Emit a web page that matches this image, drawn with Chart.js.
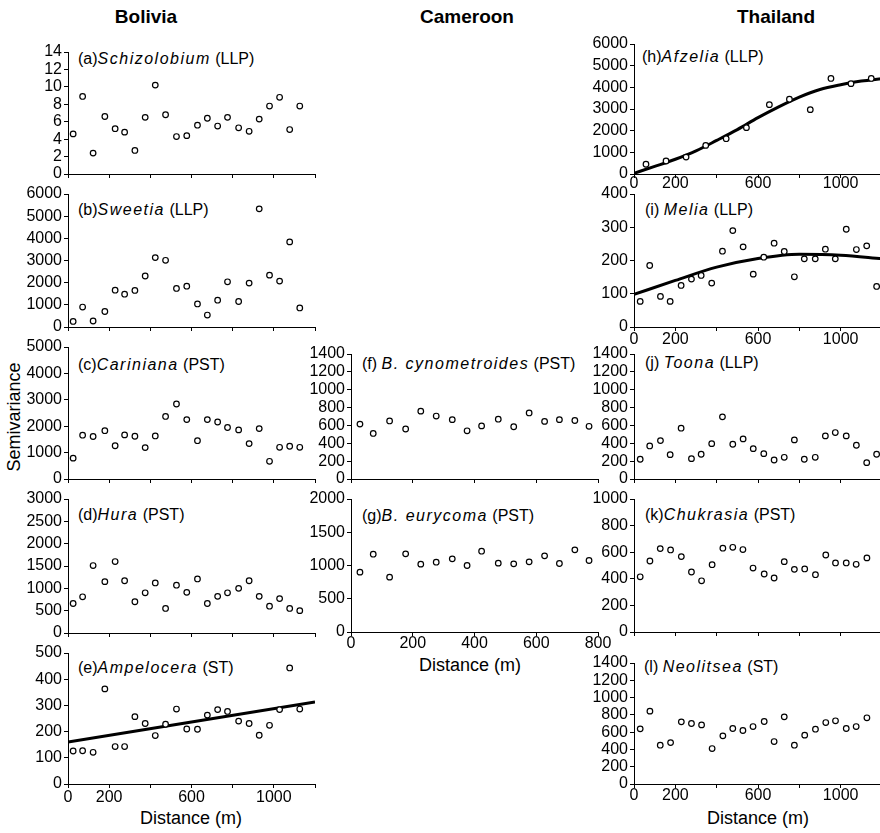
<!DOCTYPE html>
<html>
<head>
<meta charset="utf-8">
<script src="https://cdn.jsdelivr.net/npm/chart.js@4.4.1/dist/chart.umd.min.js"></script>
<style>
  html, body { margin: 0; padding: 0; background: #fff; overflow: hidden; }
  body { width: 880px; height: 833px; position: relative; font-family: "Liberation Sans", Arial, sans-serif; color: #000; }
  .head { position: absolute; font-weight: bold; font-size: 19px; transform: translate(-50%, -50%); white-space: nowrap; }
  .lab { position: absolute; font-size: 16px; line-height: 18px; white-space: nowrap; }
  .lab i { letter-spacing: 1.5px; }
  .axt { position: absolute; font-size: 18px; transform: translate(-50%, -50%); white-space: nowrap; }
</style>
</head>
<body>
<div class="head" style="left:146px;top:17px">Bolivia</div>
<div class="head" style="left:467px;top:17px">Cameroon</div>
<div class="head" style="left:776px;top:17px">Thailand</div>
<div class="axt" style="left:14px;top:417px;transform:translate(-50%,-50%) rotate(-90deg)">Semivariance</div>
<div class="axt" style="left:191px;top:818px">Distance (m)</div>
<div class="axt" style="left:470px;top:665px">Distance (m)</div>
<div class="axt" style="left:758px;top:818px">Distance (m)</div>

<div class="lab" style="left:78px;top:50px">(a)<i>Schizolobium</i> (LLP)</div>
<div class="lab" style="left:78px;top:201px">(b)<i>Sweetia</i> (LLP)</div>
<div class="lab" style="left:78px;top:356px">(c)<i>Cariniana</i> (PST)</div>
<div class="lab" style="left:78px;top:506px">(d)<i>Hura</i> (PST)</div>
<div class="lab" style="left:78px;top:659px">(e)<i>Ampelocera</i> (ST)</div>
<div class="lab" style="left:362px;top:355px">(f) <i>B. cynometroides</i> (PST)</div>
<div class="lab" style="left:362px;top:507px">(g)<i>B. eurycoma</i> (PST)</div>
<div class="lab" style="left:642px;top:48px">(h)<i>Afzelia</i> (LLP)</div>
<div class="lab" style="left:645px;top:201px">(i) <i>Melia</i> (LLP)</div>
<div class="lab" style="left:645px;top:354px">(j) <i>Toona</i> (LLP)</div>
<div class="lab" style="left:645px;top:506px">(k)<i>Chukrasia</i> (PST)</div>
<div class="lab" style="left:644px;top:658px">(l) <i>Neolitsea</i> (ST)</div>

<script>
// lag distances (m)
const lagsBolivia = [25, 71, 122, 179, 229, 275, 325, 375, 424, 474, 527, 577, 629, 677, 727, 775, 829, 880, 929, 979, 1028, 1077, 1126];
const lagsCameroon = [29, 72, 125, 177, 226, 276, 328, 376, 423, 477, 527, 577, 627, 675, 725, 771];
const lagsAfzelia = [58, 155, 252, 347, 446, 544, 655, 752, 853, 953, 1050, 1148];
const lagsThai24 = [30, 76, 128, 175, 228, 278, 325, 376, 428, 478, 528, 577, 628, 678, 727, 776, 824, 877, 926, 974, 1027, 1076, 1126, 1174];
const lagsThai23 = [30, 77, 127, 177, 229, 278, 327, 378, 430, 478, 527, 576, 630, 678, 727, 776, 826, 878, 928, 975, 1027, 1075, 1127];

// semivariances
const schizolobium = [4.6, 8.9, 2.4, 6.6, 5.2, 4.8, 2.7, 6.5, 10.2, 6.8, 4.3, 4.4, 5.6, 6.4, 5.5, 6.5, 5.3, 4.9, 6.3, 7.8, 8.8, 5.1, 7.8];
const sweetia = [250, 900, 270, 700, 1660, 1480, 1650, 2300, 3130, 3010, 1740, 1840, 1040, 540, 1210, 2040, 1150, 1980, 5330, 2340, 2070, 3840, 860];
const cariniana = [790, 1660, 1610, 1830, 1260, 1670, 1620, 1190, 1630, 2370, 2840, 2250, 1450, 2250, 2160, 1950, 1860, 1340, 1910, 670, 1200, 1240, 1200];
const hura = [660, 810, 1510, 1150, 1600, 1170, 700, 900, 1120, 550, 1070, 910, 1210, 660, 820, 900, 1000, 1170, 820, 600, 770, 550, 500];
const ampelocera = [126, 127, 121, 363, 143, 143, 257, 231, 185, 228, 286, 210, 209, 263, 284, 277, 240, 231, 186, 224, 284, 443, 286];
const cynometroides = [615, 510, 650, 560, 760, 705, 665, 540, 595, 670, 585, 740, 645, 665, 655, 590];
const eurycoma = [900, 1170, 825, 1175, 1020, 1050, 1100, 1000, 1215, 1035, 1025, 1055, 1145, 1030, 1235, 1075];
const afzelia = [450, 600, 780, 1320, 1630, 2140, 3200, 3450, 2970, 4410, 4170, 4410];
const melia = [77, 185, 92, 77, 125, 144, 155, 132, 228, 290, 241, 159, 210, 252, 227, 151, 205, 205, 234, 205, 294, 233, 244, 122];
const toona = [221, 370, 430, 273, 569, 228, 277, 396, 696, 389, 449, 340, 284, 213, 243, 438, 221, 243, 483, 520, 483, 378, 183, 277];
const chukrasia = [415, 534, 627, 617, 567, 451, 385, 506, 630, 637, 620, 481, 436, 406, 529, 471, 474, 431, 579, 519, 519, 509, 557];
const neolitsea = [638, 843, 449, 479, 719, 700, 684, 410, 557, 642, 619, 665, 723, 491, 777, 449, 565, 634, 711, 731, 642, 665, 766];

// fitted models
const fitAmpeloceraX = [0, 1200];
const fitAmpeloceraY = [160, 313];
const fitAfzeliaX = [0, 100, 200, 300, 400, 500, 600, 700, 800, 900, 1000, 1100, 1200];
const fitAfzeliaY = [30, 350, 680, 1070, 1550, 2050, 2600, 3100, 3550, 3900, 4120, 4290, 4400];
const fitMeliaX = [0, 200, 400, 600, 800, 1000, 1200];
const fitMeliaY = [98, 140, 180, 206, 219, 216, 205];

// x tick labels
const xLabelsWide = [0, 200, 600, 1000];
const xLabelsCameroon = [0, 200, 400, 600, 800];

const FONT = '"Liberation Sans", Arial, sans-serif';

const panels = [
  { box: [68, 52, 315, 174], xMax: 1200, yMax: 14, yStep: 2, x: lagsBolivia, y: schizolobium },
  { box: [68, 194, 315, 327], xMax: 1200, yMax: 6000, yStep: 1000, x: lagsBolivia, y: sweetia },
  { box: [68, 347, 315, 479], xMax: 1200, yMax: 5000, yStep: 1000, x: lagsBolivia, y: cariniana },
  { box: [68, 499, 315, 633], xMax: 1200, yMax: 3000, yStep: 500, x: lagsBolivia, y: hura },
  { box: [68, 653, 315, 784], xMax: 1200, yMax: 500, yStep: 100, x: lagsBolivia, y: ampelocera,
    xLabels: xLabelsWide, xPad: 0, fit: [fitAmpeloceraX, fitAmpeloceraY] },
  { box: [351, 354, 598, 479], xMax: 800, yMax: 1400, yStep: 200, x: lagsCameroon, y: cynometroides },
  { box: [351, 499, 598, 632], xMax: 800, yMax: 2000, yStep: 500, x: lagsCameroon, y: eurycoma,
    xLabels: xLabelsCameroon, xPad: -2 },
  { box: [634, 44, 882, 174], xMax: 1200, yMax: 6000, yStep: 1000, x: lagsAfzelia, y: afzelia,
    xLabels: xLabelsWide, xPad: -4, fit: [fitAfzeliaX, fitAfzeliaY] },
  { box: [634, 194, 882, 327], xMax: 1200, yMax: 400, yStep: 100, x: lagsThai24, y: melia,
    xLabels: xLabelsWide, xPad: -1.5, fit: [fitMeliaX, fitMeliaY] },
  { box: [634, 354, 882, 479], xMax: 1200, yMax: 1400, yStep: 200, x: lagsThai24, y: toona },
  { box: [634, 499, 882, 632], xMax: 1200, yMax: 1000, yStep: 200, x: lagsThai23, y: chukrasia },
  { box: [634, 663, 882, 784], xMax: 1200, yMax: 1400, yStep: 200, x: lagsThai23, y: neolitsea,
    xLabels: xLabelsWide, xPad: -2 },
];

panels.forEach(function (p) {
  const [L, T, R, B] = p.box;
  const YW = 60, PT = 12, PR = 18;
  const XH = p.xLabels ? 30 : 12;
  const w = YW + (R - L) + PR;
  const h = PT + (B - T) + XH;

  const canvas = document.createElement('canvas');
  canvas.width = w;
  canvas.height = h;
  canvas.style.cssText = 'position:absolute;left:' + (L - YW) + 'px;top:' + (T - PT) + 'px;width:' + w + 'px;height:' + h + 'px';
  document.body.appendChild(canvas);

  const datasets = [{
    data: p.x.map((x, i) => ({ x: x, y: p.y[i] })),
    pointStyle: 'circle',
    pointRadius: 2.8,
    pointBorderWidth: 1.2,
    pointBorderColor: '#000',
    pointBackgroundColor: '#fff',
    showLine: false,
    order: 1
  }];
  if (p.fit) {
    datasets.push({
      type: 'line',
      data: p.fit[0].map((x, i) => ({ x: x, y: p.fit[1][i] })),
      showLine: true,
      pointRadius: 0,
      borderColor: '#000',
      borderWidth: 3,
      cubicInterpolationMode: 'monotone',
      fill: false,
      order: 2
    });
  }

  const gridOpts = { display: true, drawOnChartArea: false, drawTicks: true, tickLength: 4, color: '#000', lineWidth: 1 };
  const borderOpts = { display: true, color: '#000', width: 1 };

  new Chart(canvas, {
    type: 'scatter',
    data: { datasets: datasets },
    options: {
      responsive: false,
      animation: false,
      devicePixelRatio: 1,
      layout: { padding: { top: PT, right: PR, left: 0, bottom: 0 } },
      plugins: { legend: { display: false }, tooltip: { enabled: false } },
      scales: {
        x: {
          type: 'linear',
          min: 0,
          max: p.xMax,
          afterFit: function (s) { s.height = XH; },
          grid: gridOpts,
          border: borderOpts,
          ticks: {
            display: !!p.xLabels,
            stepSize: 200,
            autoSkip: false,
            maxRotation: 0,
            padding: p.xPad || 0,
            color: '#000',
            font: { family: FONT, size: 16 },
            callback: function (v) { return p.xLabels && p.xLabels.includes(v) ? String(v) : ''; }
          }
        },
        y: {
          min: 0,
          max: p.yMax,
          afterFit: function (s) { s.width = YW; },
          grid: gridOpts,
          border: borderOpts,
          ticks: {
            stepSize: p.yStep,
            autoSkip: false,
            padding: 2,
            color: '#000',
            font: { family: FONT, size: 16 },
            callback: function (v) { return String(v); }
          }
        }
      }
    }
  });
});
</script>
</body>
</html>
